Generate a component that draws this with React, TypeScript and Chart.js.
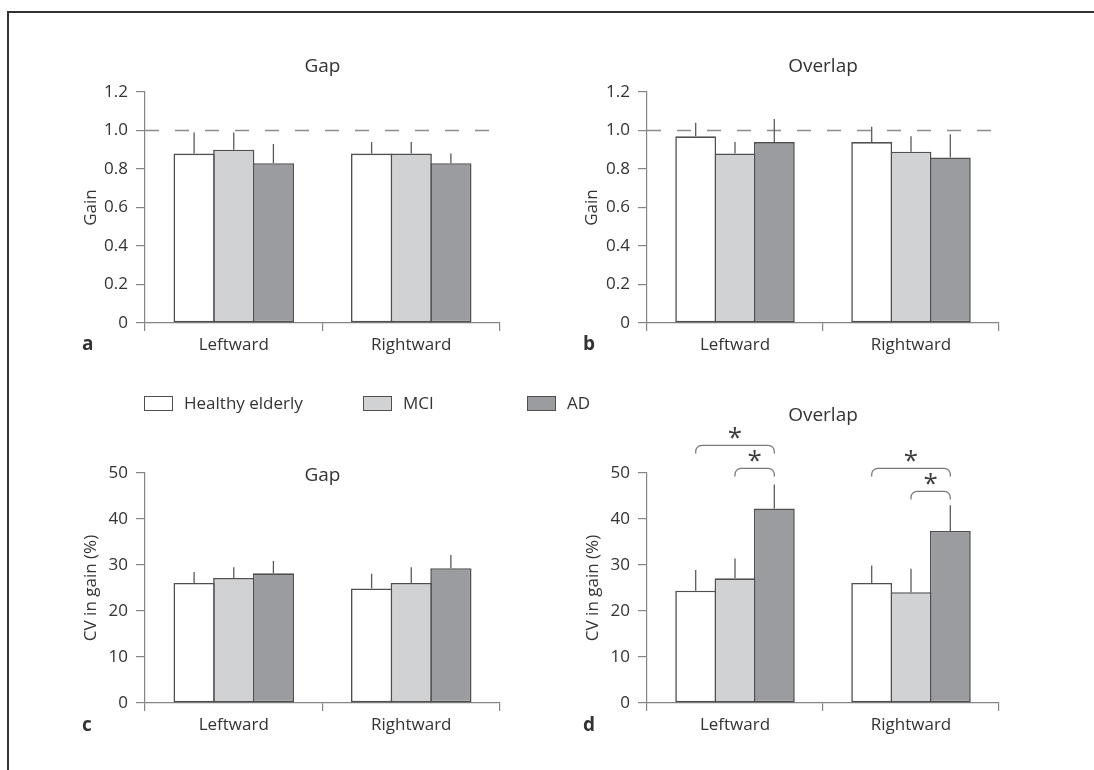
import React, { useEffect, useRef } from 'react';
import { Chart, registerables } from 'chart.js';

Chart.register(...registerables);

// ---------- data ----------
const categories = ['Leftward', 'Rightward'];
const groups = ['Healthy elderly', 'MCI', 'AD'];

// (a) Gap – gain
const gapGainHealthy = [0.88, 0.88];
const gapGainMCI = [0.9, 0.88];
const gapGainAD = [0.83, 0.83];
const gapGainHealthyErr = [0.11, 0.06];
const gapGainMCIErr = [0.09, 0.06];
const gapGainADErr = [0.1, 0.05];

// (b) Overlap – gain
const overlapGainHealthy = [0.97, 0.94];
const overlapGainMCI = [0.88, 0.89];
const overlapGainAD = [0.94, 0.86];
const overlapGainHealthyErr = [0.07, 0.08];
const overlapGainMCIErr = [0.06, 0.08];
const overlapGainADErr = [0.12, 0.12];

// (c) Gap – CV in gain (%)
const gapCVHealthy = [26.1, 24.9];
const gapCVMCI = [27.2, 26.1];
const gapCVAD = [28.2, 29.3];
const gapCVHealthyErr = [2.4, 3.2];
const gapCVMCIErr = [2.3, 3.4];
const gapCVADErr = [2.7, 2.9];

// (d) Overlap – CV in gain (%)
const overlapCVHealthy = [24.4, 26.1];
const overlapCVMCI = [27.1, 24.1];
const overlapCVAD = [42.3, 37.4];
const overlapCVHealthyErr = [4.5, 3.8];
const overlapCVMCIErr = [4.3, 5.1];
const overlapCVADErr = [5.2, 5.6];

// significance brackets in (d): category index, from group, to group, level (data units)
const overlapCVBrackets = [
  { cat: 0, from: 0, to: 2, level: 56 },
  { cat: 0, from: 1, to: 2, level: 51 },
  { cat: 1, from: 0, to: 2, level: 51 },
  { cat: 1, from: 1, to: 2, level: 46 },
];

const gainTicksMax = 1.2;
const gainStep = 0.2;
const cvTicksMax = 50;
const cvStep = 10;
const gainReference = 1.0;

// ---------- styles ----------
const FONT = "'Open Sans', sans-serif";
const groupColors = ['#ffffff', '#d1d2d4', '#9a9c9f'];
const barBorder = '#4f4f4f';
const axisColor = '#858585';
const textColor = '#333333';

Chart.defaults.font.family = FONT;
Chart.defaults.color = textColor;

type Box = { left: number; top: number; width: number; height: number };
type Area = { left: number; top: number; right: number; bottom: number };
type Bracket = { cat: number; from: number; to: number; level: number };

type PanelProps = {
  box: Box;
  area: Area;
  values: number[][];
  errors: number[][];
  max: number;
  step: number;
  yTitle: string;
  yTitleX: number;
  title: string;
  titleBaseline: number;
  letter: string;
  letterX: number;
  letterBaseline: number;
  refLine?: number;
  brackets?: Bracket[];
};

function Panel(p: PanelProps) {
  const ref = useRef<HTMLCanvasElement>(null);
  useEffect(() => {
    const canvas = ref.current;
    if (!canvas) return;
    const yWidth = p.area.left - p.box.left;
    const xHeight = p.box.top + p.box.height - p.area.bottom;
    const padTop = p.area.top - p.box.top;
    const padRight = p.box.left + p.box.width - p.area.right;
    const titleLine = 17 * 1.2;
    const yTitlePad = p.yTitleX - p.box.left - titleLine / 2;

    const overlay = {
      id: 'overlay',
      beforeDatasetsDraw(chart: any) {
        if (p.refLine === undefined) return;
        const ctx = chart.ctx;
        const y = chart.scales.y.getPixelForValue(p.refLine);
        ctx.save();
        ctx.strokeStyle = '#8c8c8c';
        ctx.lineWidth = 1.3;
        ctx.setLineDash([14, 16]);
        ctx.beginPath();
        ctx.moveTo(chart.chartArea.left, y);
        ctx.lineTo(chart.chartArea.right, y);
        ctx.stroke();
        ctx.restore();
      },
      afterDatasetsDraw(chart: any) {
        const ctx = chart.ctx;
        const ys = chart.scales.y;
        ctx.save();
        // error bars (upper only)
        ctx.strokeStyle = '#5a5a5a';
        ctx.lineWidth = 1.3;
        p.errors.forEach((errs, di) => {
          const meta = chart.getDatasetMeta(di);
          meta.data.forEach((bar: any, i: number) => {
            const top = ys.getPixelForValue(p.values[di][i] + errs[i]);
            ctx.beginPath();
            ctx.moveTo(bar.x, bar.y);
            ctx.lineTo(bar.x, top);
            ctx.stroke();
          });
        });
        // brackets
        if (p.brackets) {
          p.brackets.forEach((b) => {
            const x1 = chart.getDatasetMeta(b.from).data[b.cat].x;
            const x2 = chart.getDatasetMeta(b.to).data[b.cat].x;
            const y = ys.getPixelForValue(b.level);
            const drop = 8;
            const r = 6;
            ctx.strokeStyle = '#7a7a7a';
            ctx.lineWidth = 1.3;
            ctx.beginPath();
            ctx.moveTo(x1, y + drop);
            ctx.arcTo(x1, y, x1 + r, y, r);
            ctx.lineTo(x2 - r, y);
            ctx.arcTo(x2, y, x2, y + drop, r);
            ctx.lineTo(x2, y + drop);
            ctx.stroke();
            ctx.fillStyle = '#3c3c3c';
            ctx.font = `26px ${FONT}`;
            ctx.textAlign = 'center';
            ctx.textBaseline = 'alphabetic';
            ctx.fillText('*', (x1 + x2) / 2, y + 1);
          });
        }
        // panel title
        ctx.fillStyle = textColor;
        ctx.font = `19px ${FONT}`;
        ctx.textAlign = 'center';
        ctx.textBaseline = 'alphabetic';
        ctx.fillText(p.title, (chart.chartArea.left + chart.chartArea.right) / 2, p.titleBaseline - p.box.top);
        // panel letter
        ctx.font = `bold 19px ${FONT}`;
        ctx.textAlign = 'left';
        ctx.fillText(p.letter, p.letterX - p.box.left, p.letterBaseline - p.box.top);
        ctx.restore();
      },
    };

    const chart = new Chart(canvas, {
      type: 'bar',
      data: {
        labels: categories,
        datasets: groups.map((g, i) => ({
          label: g,
          data: p.values[i],
          backgroundColor: groupColors[i],
          borderColor: barBorder,
          borderWidth: 1.6,
          borderSkipped: false,
          categoryPercentage: 0.67,
          barPercentage: 1.04,
        })),
      },
      options: {
        animation: false,
        responsive: false,
        events: [],
        layout: { padding: { left: 0, top: padTop, right: padRight, bottom: 0 } },
        plugins: {
          legend: { display: false },
          tooltip: { enabled: false },
          title: { display: false },
        },
        scales: {
          x: {
            grid: {
              display: true,
              drawOnChartArea: false,
              drawTicks: true,
              tickLength: 8,
              color: axisColor,
              lineWidth: 1.2,
              offset: true,
            },
            border: { display: true, color: axisColor, width: 1.2 },
            ticks: { color: textColor, font: { size: 17, family: FONT }, padding: 4, maxRotation: 0 },
            afterFit: (s: any) => {
              s.height = xHeight;
            },
          },
          y: {
            min: 0,
            max: p.max,
            grid: {
              drawOnChartArea: false,
              drawTicks: true,
              tickLength: 9,
              color: axisColor,
              lineWidth: 1.2,
            },
            border: { display: true, color: axisColor, width: 1.2 },
            ticks: {
              stepSize: p.step,
              color: textColor,
              font: { size: 17, family: FONT },
              padding: 8,
              callback: (v: any) => {
                const n = Number(v);
                if (n === 0) return '0';
                return p.step < 1 ? n.toFixed(1) : String(Math.round(n));
              },
            },
            title: {
              display: true,
              text: p.yTitle,
              color: textColor,
              font: { size: 17, family: FONT },
              padding: { top: yTitlePad, bottom: 0 },
            },
            afterFit: (s: any) => {
              s.width = yWidth;
            },
          },
        },
      },
      plugins: [overlay],
    } as any);
    return () => chart.destroy();
  }, []);
  return (
    <canvas
      ref={ref}
      width={p.box.width}
      height={p.box.height}
      style={{ position: 'absolute', left: p.box.left, top: p.box.top, width: p.box.width, height: p.box.height }}
    />
  );
}

const legendItems = [
  { box: 144, text: 184 },
  { box: 363, text: 403 },
  { box: 527, text: 567 },
];

export default function App() {
  return (
    <div
      style={{
        position: 'absolute',
        left: 0,
        top: 0,
        width: 1094,
        height: 770,
        overflow: 'hidden',
        background: '#ffffff',
        fontFamily: FONT,
      }}
    >
      <div
        style={{
          position: 'absolute',
          left: 7,
          top: 11,
          right: 0,
          bottom: 0,
          borderTop: '2px solid #333',
          borderLeft: '2px solid #333',
        }}
      />
      <Panel
        box={{ left: 20, top: 40, width: 500, height: 323 }}
        area={{ left: 145, top: 92, right: 500, bottom: 323 }}
        values={[gapGainHealthy, gapGainMCI, gapGainAD]}
        errors={[gapGainHealthyErr, gapGainMCIErr, gapGainADErr]}
        max={gainTicksMax}
        step={gainStep}
        yTitle="Gain"
        yTitleX={91}
        title="Gap"
        titleBaseline={72}
        letter="a"
        letterX={82}
        letterBaseline={350}
        refLine={gainReference}
      />
      <Panel
        box={{ left: 540, top: 40, width: 480, height: 323 }}
        area={{ left: 647, top: 92, right: 999, bottom: 323 }}
        values={[overlapGainHealthy, overlapGainMCI, overlapGainAD]}
        errors={[overlapGainHealthyErr, overlapGainMCIErr, overlapGainADErr]}
        max={gainTicksMax}
        step={gainStep}
        yTitle="Gain"
        yTitleX={592}
        title="Overlap"
        titleBaseline={72}
        letter="b"
        letterX={583}
        letterBaseline={350}
        refLine={gainReference}
      />
      <Panel
        box={{ left: 20, top: 380, width: 500, height: 363 }}
        area={{ left: 145, top: 473, right: 500, bottom: 703 }}
        values={[gapCVHealthy, gapCVMCI, gapCVAD]}
        errors={[gapCVHealthyErr, gapCVMCIErr, gapCVADErr]}
        max={cvTicksMax}
        step={cvStep}
        yTitle="CV in gain (%)"
        yTitleX={91}
        title="Gap"
        titleBaseline={481}
        letter="c"
        letterX={82}
        letterBaseline={731}
      />
      <Panel
        box={{ left: 540, top: 380, width: 480, height: 363 }}
        area={{ left: 647, top: 473, right: 999, bottom: 703 }}
        values={[overlapCVHealthy, overlapCVMCI, overlapCVAD]}
        errors={[overlapCVHealthyErr, overlapCVMCIErr, overlapCVADErr]}
        max={cvTicksMax}
        step={cvStep}
        yTitle="CV in gain (%)"
        yTitleX={593}
        title="Overlap"
        titleBaseline={421}
        letter="d"
        letterX={583}
        letterBaseline={731}
        brackets={overlapCVBrackets}
      />
      {groups.map((g, i) => (
        <React.Fragment key={g}>
          <div
            style={{
              position: 'absolute',
              left: legendItems[i].box,
              top: 396,
              width: 29,
              height: 15,
              boxSizing: 'border-box',
              border: `1.5px solid ${barBorder}`,
              background: groupColors[i],
              zIndex: 2,
            }}
          />
          <span
            style={{
              position: 'absolute',
              left: legendItems[i].text,
              top: 392,
              fontSize: 17,
              lineHeight: '22px',
              color: textColor,
              whiteSpace: 'nowrap',
              zIndex: 2,
            }}
          >
            {g}
          </span>
        </React.Fragment>
      ))}
    </div>
  );
}
